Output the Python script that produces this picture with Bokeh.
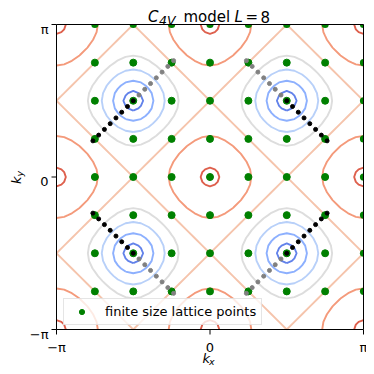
import numpy as np
from bokeh.plotting import figure
from bokeh.models import Range1d, Grid
from bokeh.core.properties import value
from bokeh.embed import file_html
from bokeh.resources import INLINE

PI = np.pi
L = 8

# finite size lattice momenta, in units of pi (2*pi*n/L)
lattice_k = [-0.75, -0.5, -0.25, 0.0, 0.25, 0.5, 0.75, 1.0]

# contour levels of |h(k)| = sqrt(cos^2 kx + cos^2 ky) and their colours
levels = [0.2, 0.4, 0.6, 0.8, 1.0, 1.2, 1.4]
level_colors = ["#6282ea", "#8db0fe", "#b8d0f9", "#dddddd",
                "#f5c4ac", "#f49a7b", "#de604d"]
grid_n = 41

# points along the diagonals through the four nodes (distance in rad per axis)
black_t = [0.0, 0.118, 0.236, 0.354, 0.472, 0.590, 0.708, 0.826]
gray_t = [0.118, 0.236, 0.354, 0.472, 0.590, 0.708, 0.826]
node_sx = [-1, 1, -1, 1]
node_sy = [1, 1, -1, -1]

tick_vals = [-PI, 0.0, PI]
tick_text = ["\u2212\u03c0", "0", "\u03c0"]

FONT = "DejaVu Sans"

# ---- layout (canvas pixels) ----
W = H = 366
FL, FR, FT, FB = 56, 363, 24, 329          # plot box edges
SX = (FR - FL) / (2 * PI)
SY = (FB - FT) / (2 * PI)


def X(px):
    return -PI + (px - FL) / SX


def Y(py):
    return PI - (py - FT) / SY


p = figure(width=W, height=H,
           x_range=Range1d(X(0), X(W)), y_range=Range1d(Y(H), Y(0)),
           x_axis_location=None, y_axis_location=None,
           output_backend="svg", toolbar_location=None, title=None,
           min_border=0, min_border_left=0, min_border_right=0,
           min_border_top=0, min_border_bottom=0)
p.outline_line_color = None
p.background_fill_color = "white"
p.border_fill_color = "white"
for r in list(p.center):
    if isinstance(r, Grid):
        r.visible = False
        r.grid_line_color = None

# contour field
xs = np.linspace(-PI, PI, grid_n)
KXg, KYg = np.meshgrid(xs, xs)
Z = np.sqrt(np.cos(KXg) ** 2 + np.cos(KYg) ** 2)
p.contour(x=xs, y=xs, z=Z, levels=levels, line_color=level_colors, line_width=1.9)

# lattice points (those on the upper/right border are clipped by the box)
lk = np.array(lattice_k) * PI
KX, KY = np.meshgrid(lk, lk)
kx, ky = KX.ravel(), KY.ravel()
edge_x = np.isclose(kx, PI)
edge_y = np.isclose(ky, PI)
inner = ~edge_x & ~edge_y
GREEN = "#008000"
p.scatter(kx[inner], ky[inner], size=7, fill_color=GREEN, line_color=GREEN,
          legend_label="finite size lattice points")
m = edge_x & ~edge_y
p.wedge(kx[m], ky[m], radius=3.6, radius_units="screen", start_angle=PI / 2,
        end_angle=3 * PI / 2, fill_color=GREEN, line_color=None)
m = edge_y & ~edge_x
p.wedge(kx[m], ky[m], radius=3.6, radius_units="screen", start_angle=PI,
        end_angle=2 * PI, fill_color=GREEN, line_color=None)
m = edge_x & edge_y
p.wedge(kx[m], ky[m], radius=3.6, radius_units="screen", start_angle=PI,
        end_angle=3 * PI / 2, fill_color=GREEN, line_color=None)

# gray and black diagonal points
gx, gy, bx, by = [], [], [], []
for sx, sy in zip(node_sx, node_sy):
    for t in gray_t:
        gx.append(sx * (PI / 2 - t)); gy.append(sy * (PI / 2 + t))
    for t in black_t:
        bx.append(sx * (PI / 2 + t)); by.append(sy * (PI / 2 - t))
p.scatter(gx, gy, size=4, fill_color="gray", line_color="gray")
p.scatter(bx, by, size=4, fill_color="black", line_color="black")

# plot box
p.rect(x=[0.0], y=[0.0], width=[2 * PI], height=[2 * PI], fill_color=None,
       line_color="black", line_width=1)

# ticks
p.ray(x=tick_vals, y=[-PI] * 3, length=5, length_units="screen", angle=-PI / 2,
      line_color="black", line_width=1)
p.ray(x=[-PI] * 3, y=tick_vals, length=5, length_units="screen", angle=PI,
      line_color="black", line_width=1)

# tick labels
p.text(x=tick_vals, y=[Y(347)] * 3, text=tick_text, text_font=value(FONT),
       text_font_size=value("13px"), text_align="center",
       text_baseline="alphabetic", text_color="black")
p.text(x=[X(48)] * 3, y=[v - 4.7 / SY for v in tick_vals], text=tick_text,
       text_font=value(FONT), text_font_size=value("13px"), text_align="right",
       text_baseline="alphabetic", text_color="black")


def txt(s, px, py, size, style="normal", angle=0.0):
    p.text(x=[X(px)], y=[Y(py)], text=[s], text_font=value(FONT),
           text_font_size=value(size), text_font_style=style, text_align="left",
           text_baseline="alphabetic", text_color="black", angle=angle)


# title: C_{4V} model L = 8
txt("C", 147.5, 16.5, "15px", "italic")
txt("4V", 158.5, 19.5, "12.5px", "italic")
txt("model", 183, 16.5, "15px")
txt("L", 234, 16.5, "15px", "italic")
txt("=", 245, 16.5, "15px")
txt("8", 260, 16.5, "15px")

# x label k_x
txt("k", 202, 358, "13px", "italic")
txt("x", 208.5, 360.5, "9.5px", "italic")

# y label k_y (rotated)
txt("k", 16, 183.5, "13px", "italic", angle=PI / 2)
txt("y", 18.5, 176, "9.5px", "italic", angle=PI / 2)

lg = p.legend[0]
lg.location = (63, H - 325)
lg.padding = 5
lg.spacing = 0
lg.margin = 0
lg.glyph_width = 25
lg.glyph_height = 13
lg.label_height = 13
lg.label_standoff = 11
lg.label_text_font = FONT
lg.label_text_font_size = "13px"
lg.label_text_color = "black"
lg.border_line_color = "#cccccc"
lg.border_line_width = 1
lg.background_fill_color = "white"
lg.background_fill_alpha = 0.8

open("out.html", "w").write(file_html(p, INLINE))
